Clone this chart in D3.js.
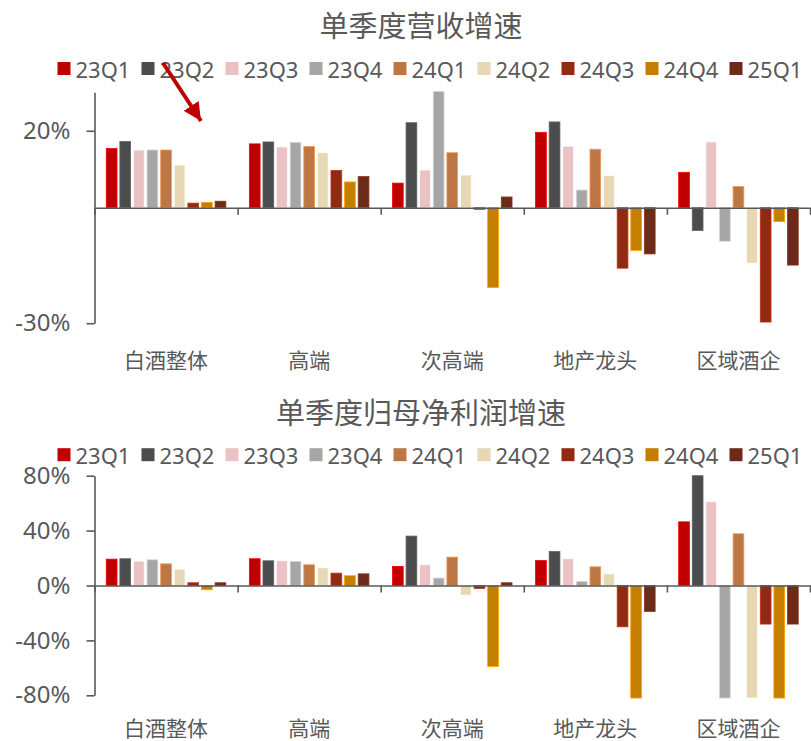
<!DOCTYPE html>
<html>
<head>
<meta charset="utf-8">
<script src="https://cdn.jsdelivr.net/npm/d3@7/dist/d3.min.js"></script>
<style>
  html, body { margin: 0; padding: 0; background: #fff; }
  text { font-family: "Noto Sans", "Noto Sans CJK SC", sans-serif; fill: #595959; }
  .cjk { font-family: "Noto Sans CJK SC", sans-serif; }
</style>
</head>
<body>
<div id="chart"></div>
<script>
// categories and series
var categories = ["白酒整体", "高端", "次高端", "地产龙头", "区域酒企"];
var quarters = ["23Q1", "23Q2", "23Q3", "23Q4", "24Q1", "24Q2", "24Q3", "24Q4", "25Q1"];
var quarterColors = ["#C00000", "#4B4C4E", "#EBC2C3", "#A6A6A6", "#BD7745", "#E7D7B5", "#912A12", "#C47E00", "#6C2A18"];

// 单季度营收增速 (%), one row per category, one value per quarter
var revenueGrowth = [
    [15.4, 17.2, 15.0, 15.0, 15.0, 11.1, 1.2, 1.4, 1.7],
    [16.6, 17.1, 15.8, 17.0, 15.9, 14.3, 9.7, 6.7, 8.1],
    [6.4, 22.1, 9.8, 30.2, 14.3, 8.5, -0.4, -20.7, 2.8],
    [19.6, 22.3, 16.0, 4.6, 15.2, 8.4, -15.7, -11.1, -12.0],
    [9.2, -5.9, 17.1, -8.7, 5.5, -14.4, -29.7, -3.6, -14.9]
];
// 单季度归母净利润增速 (%)
var profitGrowth = [
    [19.2, 19.5, 17.8, 18.7, 15.8, 11.9, 2.0, -3.1, 2.0],
    [19.5, 18.0, 18.0, 17.5, 15.1, 12.9, 9.0, 7.1, 8.5],
    [13.9, 36.0, 15.1, 5.4, 20.7, -7.0, -2.2, -59.0, 2.0],
    [18.2, 24.8, 19.5, 2.9, 13.6, 8.5, -30.1, -82, -18.9],
    [46.4, 80, 61.0, -82, 37.7, -82, -28.1, -82, -28.1]
];
var revenueTicks = [-30, 20];
var profitTicks = [-80, -40, 0, 40, 80];

var width = 811, height = 741;
var left = 94.5, right = 810;

var svg = d3.select("#chart").append("svg")
    .attr("width", width)
    .attr("height", height);

function drawPanel(opts) {
    var g = svg.append("g");

    var x0 = d3.scaleBand().domain(categories).range([left, right]).padding(0);
    var x1 = d3.scaleBand().domain(quarters).range([0, x0.bandwidth()])
        .paddingInner(0.21).paddingOuter(0.865);
    var y = d3.scaleLinear().domain(opts.domain).range([opts.bottom, opts.top]);

    // title
    g.append("text")
        .attr("class", "cjk")
        .attr("x", 421)
        .attr("y", opts.titleY)
        .attr("text-anchor", "middle")
        .attr("dominant-baseline", "central")
        .style("font-size", "29px")
        .text(opts.title);

    // legend
    var legend = g.append("g").selectAll("g")
        .data(quarters).enter()
        .append("g")
        .attr("transform", (d, i) => `translate(${57.5 + i * 84}, ${opts.legendY})`);
    legend.append("rect")
        .attr("x", 0).attr("y", -6.5)
        .attr("width", 13).attr("height", 13)
        .attr("fill", (d, i) => quarterColors[i]);
    legend.append("text")
        .attr("x", 18)
        .attr("y", 0)
        .attr("dominant-baseline", "central")
        .style("font-size", "22px")
        .text(d => d);

    // bars
    var rows = g.append("g").selectAll("g")
        .data(opts.values).enter()
        .append("g")
        .attr("transform", (d, i) => `translate(${x0(categories[i])}, 0)`);
    rows.selectAll("rect")
        .data(d => d).enter()
        .append("rect")
        .attr("x", (d, i) => x1(quarters[i]))
        .attr("width", x1.bandwidth())
        .attr("y", d => Math.min(y(d), y(0)))
        .attr("height", d => Math.abs(y(d) - y(0)))
        .attr("fill", (d, i) => quarterColors[i])
        .attr("stroke", (d, i) => d3.color(quarterColors[i]).brighter(0.7))
        .attr("stroke-width", 0.8);

    // y axis
    var yAxis = d3.axisLeft(y)
        .tickValues(opts.ticks)
        .tickSize(8)
        .tickSizeOuter(0)
        .tickPadding(16)
        .tickFormat(d => d + "%");
    var ya = g.append("g")
        .attr("transform", `translate(${left}, 0)`)
        .call(yAxis);
    ya.selectAll("text").style("font-size", "24px").attr("fill", "#595959");
    ya.selectAll("line, path").attr("stroke", "#595959").attr("stroke-width", 1.6);

    // zero line with category boundary ticks
    var xb = d3.scaleLinear().domain([0, categories.length]).range([left, right]);
    var xa = g.append("g")
        .attr("transform", `translate(0, ${y(0)})`)
        .call(d3.axisBottom(xb).tickValues(d3.range(categories.length + 1)).tickSize(7).tickSizeOuter(0).tickFormat(""));
    xa.selectAll("line, path").attr("stroke", "#595959").attr("stroke-width", 1.6);

    // category labels under the plot
    g.append("g").selectAll("text")
        .data(categories).enter()
        .append("text")
        .attr("class", "cjk")
        .attr("x", d => x0(d) + x0.bandwidth() / 2)
        .attr("y", opts.bottom + opts.labelGap)
        .attr("text-anchor", "middle")
        .attr("dominant-baseline", "central")
        .style("font-size", "21px")
        .text(d => d);

    return g;
}

drawPanel({
    title: "单季度营收增速",
    titleY: 23.5,
    legendY: 68.5,
    values: revenueGrowth,
    domain: [-30, 30],
    ticks: revenueTicks,
    top: 92.3,
    bottom: 323.2,
    labelGap: 36
});

drawPanel({
    title: "单季度归母净利润增速",
    titleY: 410.5,
    legendY: 454.7,
    values: profitGrowth,
    domain: [-80, 80],
    ticks: profitTicks,
    top: 475.7,
    bottom: 695.3,
    labelGap: 32
});

// red annotation arrow
var defs = svg.append("defs");
defs.append("marker")
    .attr("id", "arrowhead")
    .attr("markerUnits", "userSpaceOnUse")
    .attr("markerWidth", 20).attr("markerHeight", 18)
    .attr("refX", 18).attr("refY", 9)
    .attr("orient", "auto")
    .append("path")
    .attr("d", "M0,0 L18,9 L0,18 Z")
    .attr("fill", "#C00000");
svg.append("line")
    .attr("x1", 163).attr("y1", 63)
    .attr("x2", 201).attr("y2", 121)
    .attr("stroke", "#C00000")
    .attr("stroke-width", 4)
    .attr("marker-end", "url(#arrowhead)");
</script>
</body>
</html>
